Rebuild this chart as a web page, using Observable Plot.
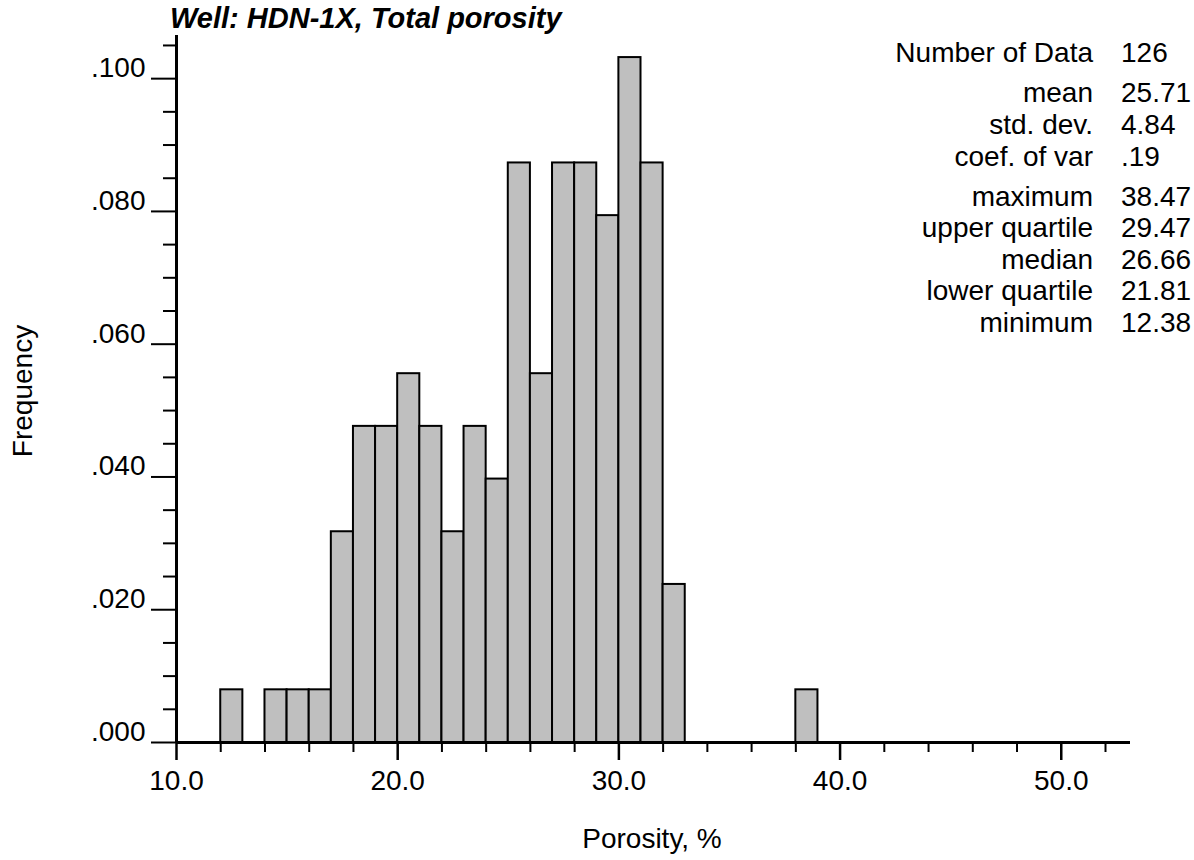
<!DOCTYPE html>
<html><head><meta charset="utf-8">
<script src="https://cdn.jsdelivr.net/npm/d3@7"></script>
<script src="https://cdn.jsdelivr.net/npm/@observablehq/plot@0.6"></script>
<style>
body{margin:0;background:#fff;}
#wrap{position:relative;width:1194px;height:860px;font-family:"Liberation Sans",Arial,Helvetica,sans-serif;color:#000;}
#wrap svg{position:absolute;left:0;top:0;}
.t{position:absolute;white-space:nowrap;font-size:28px;line-height:28px;}
</style></head><body><div id="wrap"></div>
<script>
// Histogram bins (lower edge, width 1) and counts
const binStart  = [12, 14, 15, 16, 17, 18, 19, 20, 21, 22, 23, 24, 25, 26, 27, 28, 29, 30, 31, 32, 38];
const binCounts = [ 1,  1,  1,  1,  4,  6,  6,  7,  6,  4,  6,  5, 11,  7, 11, 11, 10, 13, 11,  3,  1];
const binWidth = 1;
const numberOfData = 126;

const xMajorTicks = [10, 20, 30, 40, 50];
const xMinorTicks = [12, 14, 16, 18, 22, 24, 26, 28, 32, 34, 36, 38, 42, 44, 46, 48, 52];
const yMajorTicks = [0, 0.02, 0.04, 0.06, 0.08, 0.10];
const yMinorTicks = [0.005, 0.010, 0.015, 0.025, 0.030, 0.035, 0.045, 0.050, 0.055, 0.065, 0.070, 0.075, 0.085, 0.090, 0.095, 0.105];

const titleText = "Well: HDN-1X, Total porosity";
const xLabel = "Porosity, %";
const yLabel = "Frequency";

const statLabels = ["Number of Data", "mean", "std. dev.", "coef. of var", "maximum", "upper quartile", "median", "lower quartile", "minimum"];
const statValues = ["126", "25.71", "4.84", ".19", "38.47", "29.47", "26.66", "21.81", "12.38"];
const statBaselines = [63, 103, 135, 167, 207, 238, 270, 301, 333];

const bars = binStart.map((s, i) => ({x1: s, x2: s + binWidth, freq: binCounts[i] / numberOfData}));
const yFmt = d => d3.format(".3f")(d).replace(/^0/, "");

const chart = Plot.plot({
  width: 1194, height: 860,
  marginLeft: 176, marginRight: 64, marginTop: 35, marginBottom: 118,
  style: {fontSize: "28px", fontFamily: "'Liberation Sans', Arial, sans-serif", background: "transparent", color: "#000"},
  x: {domain: [10, 53.13]},
  y: {domain: [0, 0.1065]},
  marks: [
    Plot.rect(bars, {x1: "x1", x2: "x2", y1: 0, y2: "freq", fill: "#bfbfbf", stroke: "#000", strokeWidth: 2}),
    Plot.axisX(xMinorTicks, {tickSize: 10, fill: "none", strokeWidth: 2, label: null}),
    Plot.axisX(xMajorTicks, {tickSize: 18, tickPadding: 10, tickFormat: d => d.toFixed(1), strokeWidth: 2.5, label: null}),
    Plot.axisY(yMinorTicks, {tickSize: 13, fill: "none", strokeWidth: 2, label: null}),
    Plot.axisY(yMajorTicks, {tickSize: 25, fill: "none", strokeWidth: 2, label: null}),
    Plot.axisY(yMajorTicks, {tickSize: 0, tickPadding: 31, dy: -10.5, tickFormat: yFmt, label: null}),
    Plot.ruleY([0], {strokeWidth: 3}),
    Plot.ruleX([10], {strokeWidth: 3})
  ]
});

const wrap = document.getElementById("wrap");
wrap.appendChild(chart);

function addText(txt, css) {
  const d = document.createElement("div");
  d.className = "t";
  d.textContent = txt;
  Object.assign(d.style, css);
  wrap.appendChild(d);
  return d;
}
const B = 23.7; // baseline offset inside a 28px line box
addText(titleText, {left: "170px", top: (28 - B - 0.8) + "px", fontWeight: "bold", fontStyle: "italic", fontSize: "29px", lineHeight: "28px"});
statLabels.forEach((s, i) => {
  addText(s, {right: (1194 - 1093) + "px", top: (statBaselines[i] - B) + "px", textAlign: "right"});
  addText(statValues[i], {left: "1121px", top: (statBaselines[i] - B) + "px"});
});
addText(xLabel, {left: "652px", top: (849 - B) + "px", transform: "translateX(-50%)"});
addText(yLabel, {left: "23px", top: "391px", transform: "translate(-50%,-50%) rotate(-90deg)"});
</script>
</body></html>
